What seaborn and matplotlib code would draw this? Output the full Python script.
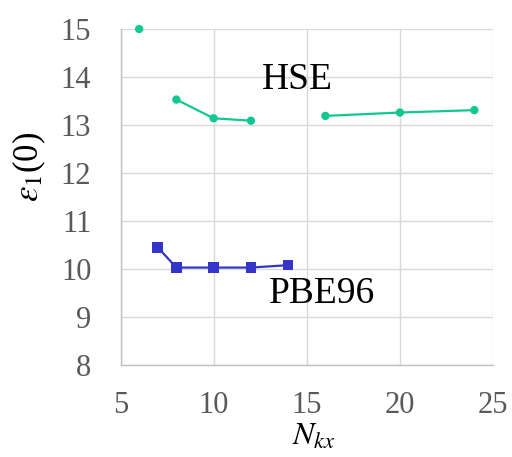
import matplotlib
matplotlib.use("Agg")
import matplotlib.pyplot as plt
import seaborn as sns
import pandas as pd

hse_x = [6, 8, 10, 12, 16, 20, 24]
hse_y = [15.0, 13.53, 13.14, 13.09, 13.19, 13.26, 13.31]
hse_seg = [0, 1, 1, 1, 2, 2, 2]
pbe_x = [7, 8, 10, 12, 14]
pbe_y = [10.45, 10.03, 10.03, 10.03, 10.08]
x_ticks = [5, 10, 15, 20, 25]
y_ticks = [8, 9, 10, 11, 12, 13, 14, 15]

sns.set_theme(style="whitegrid")
plt.rcParams['font.family'] = ['Liberation Serif', 'DejaVu Serif']
plt.rcParams['mathtext.fontset'] = 'stix'

fig = plt.figure(figsize=(5.12, 4.57), dpi=100)
ax = fig.add_axes([0.2354, 0.2013, 0.7275, 0.7352])

green = "#12C891"
blue = "#3434C8"

hse = pd.DataFrame({"x": hse_x, "y": hse_y, "seg": hse_seg})
pbe = pd.DataFrame({"x": pbe_x, "y": pbe_y})

for s, d in hse.groupby("seg"):
    if len(d) > 1:
        sns.lineplot(data=d, x="x", y="y", ax=ax, color=green, lw=1.6, zorder=3)
sns.scatterplot(data=hse, x="x", y="y", ax=ax, color=green, s=36, marker="o",
                edgecolor="none", zorder=4, clip_on=False)
sns.lineplot(data=pbe, x="x", y="y", ax=ax, color=blue, lw=1.6, zorder=3)
sns.scatterplot(data=pbe, x="x", y="y", ax=ax, color=blue, s=58, marker="s",
                edgecolor="none", zorder=4)

ax.set_xlim(5, 25)
ax.set_ylim(8, 15)
ax.set_xticks(x_ticks)
ax.set_yticks(y_ticks)
ax.grid(True, color="#D9D9D9", lw=1)
for side in ["top", "right"]:
    ax.spines[side].set_visible(False)
for side in ["left", "bottom"]:
    ax.spines[side].set_color("#BFBFBF")
    ax.spines[side].set_linewidth(1)
ax.tick_params(axis="x", labelsize=22, labelcolor="#595959", length=0, pad=19)
ax.tick_params(axis="y", labelsize=22, labelcolor="#595959", length=0, pad=21)

ax.set_xlabel("$N_{kx}$", fontsize=23, color="black")
ax.xaxis.set_label_coords(0.52, -0.172)
ax.set_ylabel("$\\varepsilon_1$(0)", fontsize=25, color="black")
ax.yaxis.label.set_va("center")
ax.yaxis.set_label_coords(-0.245, 0.59)

ax.text(14.47, 13.95, "HSE", fontsize=27, color="black", ha="center", va="center")
ax.text(15.82, 9.49, "PBE96", fontsize=27, color="black", ha="center", va="center")

fig.savefig("out.png", dpi=100)
